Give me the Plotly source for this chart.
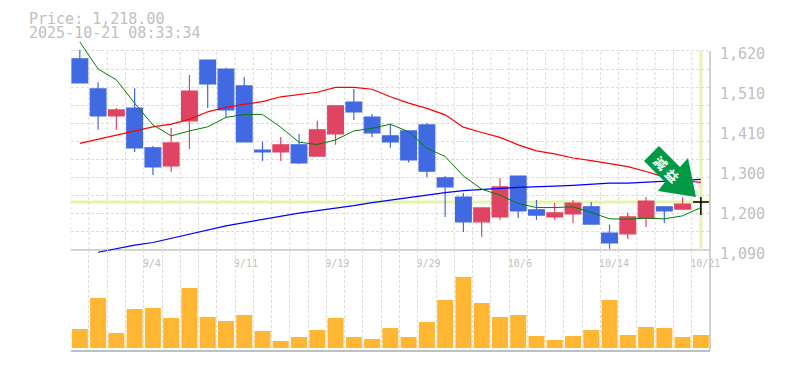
import plotly.graph_objects as go

dates = ["8/29","9/1","9/2","9/3","9/4","9/5","9/8","9/9","9/10","9/11","9/12","9/16","9/17","9/18","9/19",
         "9/22","9/24","9/25","9/26","9/29","9/30","10/1","10/2","10/3","10/6","10/7","10/8","10/9","10/10",
         "10/14","10/15","10/16","10/17","10/20","10/21"]
opens = [1599,1519,1447,1468,1362,1314,1434,1596,1572,1527,1356,1351,1370,1340,1399,1484,1444,1394,1407,1423,
         1282,1231,1165,1178,1287,1197,1178,1186,1205,1135,1133,1175,1205,1199,1218]
highs = [1623,1537,1468,1521,1367,1415,1556,1596,1575,1551,1378,1391,1399,1434,1474,1519,1452,1426,1407,1428,
         1287,1242,1202,1282,1287,1223,1215,1223,1218,1157,1189,1231,1205,1231,1231]
lows = [1535,1410,1410,1351,1290,1298,1359,1468,1442,1378,1327,1327,1319,1340,1370,1436,1391,1362,1323,1284,
        1178,1138,1125,1170,1175,1170,1170,1162,1157,1093,1119,1151,1162,1199,1183]
closes = [1535,1447,1463,1362,1311,1375,1513,1532,1463,1378,1351,1370,1322,1410,1474,1458,1402,1378,1330,1300,
          1258,1165,1202,1258,1194,1183,1189,1215,1159,1109,1178,1220,1194,1212,1218]
ma_short = [1644,1572,1543,1481,1423,1394,1407,1418,1443,1451,1451,1417,1377,1371,1383,1407,1414,1425,1405,1361,
            1339,1287,1252,1236,1214,1203,1203,1205,1190,1173,1172,1175,1173,1181,1203]
ma_mid = [1374,1385,1396,1407,1418,1425,1438,1458,1470,1478,1485,1498,1503,1510,1523,1523,1518,1498,1481,1467,
          1450,1417,1403,1390,1370,1354,1346,1335,1328,1321,1312,1299,1284,1275,1270]
ma_long = [None,1084,1094,1103,1110,1121,1132,1143,1154,1163,1172,1179,1188,1195,1201,1208,1216,1223,1231,1238,
           1243,1248,1250,1254,1257,1258,1260,1262,1266,1268,1268,1270,1274,1276,1278]
volumes = [57,150,45,117,120,90,180,93,81,99,51,21,33,54,90,33,27,60,33,78,144,213,135,93,99,36,24,36,54,144,39,63,60,33,39]
tick_dates = ["9/4","9/11","9/19","9/29","10/6","10/14","10/21"]
price_tick_values = [1082,1188.5,1295,1401.6,1508,1614.6]
price_tick_labels = ["1,090","1,200","1,300","1,410","1,510","1,620"]
last_price = 1218
title_lines = ["Price: 1,218.00", "2025-10-21 08:33:34"]
arrow_label = "減益"

W, H = 785, 370
L, R = 70.7, 710
PT, PB = 40, 253
VT, VB = 250, 350
n = len(dates)
xs = list(range(n))
GRID = "#dcdcdc"
AXIS = "#c0c0c0"
TXT = "#c0c0c0"
MONO = "DejaVu Sans Mono, monospace"
def pxx(p): return p / W
def pxy(p): return 1 - p / H

slot = (R - L) / n
tick_pos = [dates.index(d) - 0.5 + len(d) * 2.7 / slot for d in tick_dates]
x_grid = [i - 0.5 for i in range(n)]
y_grid = [1090 + i * 48.18 for i in range(12)]
DASH = "3px,2px"

fig = go.Figure()
for xg in x_grid:
    fig.add_shape(type="line", xref="x", yref="y", x0=xg, x1=xg, y0=1090, y1=1620,
                  line=dict(color=GRID, width=1, dash=DASH), layer="below")
fig.add_shape(type="line", xref="paper", yref="y", x0=pxx(L), x1=pxx(R), y0=last_price, y1=last_price,
              line=dict(color="#e2f5a8", width=3), layer="below")
fig.add_shape(type="line", xref="x", yref="y", x0=n-1, x1=n-1, y0=1090, y1=1620,
              line=dict(color="#e2f5a8", width=3), layer="below")

fig.add_trace(go.Scatter(x=xs, y=ma_mid, mode="lines", line=dict(color="#ff0000", width=1.2), name="MA25"))
fig.add_trace(go.Scatter(x=xs, y=ma_long, mode="lines", line=dict(color="#0000ff", width=1.2), name="MA75"))
fig.add_trace(go.Scatter(x=xs, y=ma_short, mode="lines", line=dict(color="#008000", width=1), name="MA5"))
fig.add_trace(go.Candlestick(x=xs[:-1], open=opens[:-1], high=highs[:-1], low=lows[:-1], close=closes[:-1],
                             increasing=dict(line=dict(color="#e04463", width=1.2), fillcolor="#e04463"),
                             decreasing=dict(line=dict(color="#4169e1", width=1.2), fillcolor="#4169e1"),
                             whiskerwidth=0, name="Price"))
fig.add_trace(go.Candlestick(x=xs[-1:], open=opens[-1:], high=highs[-1:], low=lows[-1:], close=closes[-1:],
                             increasing=dict(line=dict(color="#000000", width=1.5), fillcolor="#000000"),
                             decreasing=dict(line=dict(color="#000000", width=1.5), fillcolor="#000000"),
                             whiskerwidth=0, name="Last"))
fig.add_trace(go.Bar(x=xs, y=volumes, width=0.875, marker=dict(color="#ffb733", line=dict(width=0)),
                     xaxis="x2", yaxis="y2", name="Volume"))

arrow = [(659,146),(644,161),(665,182),(658,191),(696,197),(688,158),(680,167)]
fig.add_shape(type="path", xref="paper", yref="paper", layer="above", line=dict(width=0), fillcolor="#009944",
              path="M " + " L ".join(f"{pxx(a):.5f},{pxy(b):.5f}" for a, b in arrow) + " Z")
for ch, (cx, cy) in zip(arrow_label, [(660, 163), (672.5, 175)]):
    fig.add_annotation(xref="paper", yref="paper", x=pxx(cx), y=pxy(cy), xanchor="center", yanchor="middle",
                       text=f"<b>{ch}</b>", textangle=45, borderpad=0,
                       showarrow=False, font=dict(family="Noto Sans CJK JP", size=13, color="#ffffff"))

for i, t in enumerate(title_lines):
    fig.add_annotation(xref="paper", yref="paper", x=pxx(27), y=pxy(18.5 + 15 * i), xanchor="left", yanchor="middle",
                       text=t, showarrow=False, font=dict(family=MONO, size=15, color=TXT))

fig.update_layout(
    width=W, height=H, margin=dict(l=0, r=0, t=0, b=0, autoexpand=False), paper_bgcolor="#ffffff", plot_bgcolor="rgba(0,0,0,0)",
    showlegend=False, boxgap=0.14, boxgroupgap=0,
    xaxis=dict(domain=[pxx(L), pxx(R)], range=[-0.5, n - 0.5], anchor="y", rangeslider=dict(visible=False),
               tickmode="array", tickvals=tick_pos, ticktext=tick_dates, ticks="", showgrid=False, zeroline=False,
               showline=False, tickfont=dict(family=MONO, size=10, color=TXT), ticklabelstandoff=3),
    yaxis=dict(domain=[pxy(PB), pxy(PT)], range=[1082, 1649.2], side="right", anchor="x",
               tickmode="array", tickvals=price_tick_values, ticktext=price_tick_labels, ticks="", showgrid=False,
               zeroline=False, showline=False, tickfont=dict(family=MONO, size=15, color=TXT),
               ticklabelstandoff=9, ticklabelshift=1,
               minor=dict(tickmode="array", tickvals=y_grid, showgrid=True, gridcolor=GRID, griddash=DASH, gridwidth=1, ticks="")),
    xaxis2=dict(domain=[pxx(L), pxx(R)], range=[-0.5, n - 0.5], anchor="y2", showticklabels=False, ticks="", showgrid=False,
                zeroline=False, showline=True, linecolor=AXIS, linewidth=1.5,
                minor=dict(tickmode="array", tickvals=x_grid, showgrid=True, gridcolor=GRID, griddash=DASH, gridwidth=1, ticks="")),
    yaxis2=dict(domain=[pxy(VB), pxy(VT)], range=[-6, 294], side="right", anchor="x2", showticklabels=False, ticks="",
                showgrid=False, zeroline=False, showline=False),
)
fig.add_shape(type="line", xref="paper", yref="y", x0=pxx(L), x1=pxx(R), y0=1090, y1=1090, line=dict(color=AXIS, width=1.5), layer="below")
fig.add_shape(type="line", xref="paper", yref="paper", x0=pxx(R), x1=pxx(R), y0=pxy(51), y1=pxy(VB), line=dict(color=AXIS, width=1.5), layer="above")

fig.write_html("out.html", config=dict(displayModeBar=False), post_script="document.body.style.margin='0';")
